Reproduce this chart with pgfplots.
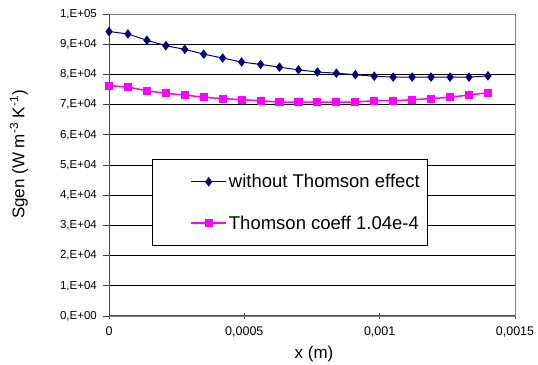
\documentclass[border=0pt]{standalone}
\usepackage{fontspec}
\setmainfont{Liberation Sans}
\usepackage{pgfplots}
\pgfplotsset{compat=1.18}
\definecolor{navyb}{HTML}{000080}
\definecolor{pinkm}{HTML}{FF00FF}
\begin{document}
\begin{tikzpicture}
\begin{axis}[
  scale only axis,
  width=406bp, height=302bp,
  at={(109bp,49bp)}, anchor=south west,
  xmin=0, xmax=0.0015, ymin=0, ymax=100000,
  xtick={0,0.0005,0.001,0.0015},
  xticklabels={0,{0,0005},{0,001},{0,0015}},
  ytick={0,10000,20000,30000,40000,50000,60000,70000,80000,90000,100000},
  yticklabels={{0,E+00},{1,E+04},{2,E+04},{3,E+04},{4,E+04},{5,E+04},{6,E+04},{7,E+04},{8,E+04},{9,E+04},{1,E+05}},
  scaled x ticks=false, scaled y ticks=false,
  ymajorgrids, grid style={black, line width=0.8bp},
  axis line style={draw=gray, line width=0.8bp},
  x tick style={black!75, line width=0.8bp},
  y tick style={black!75, line width=0.8bp},
  xtick align=center, ytick align=outside,
  x tick label style={font=\fontsize{12.5bp}{14bp}\selectfont, inner sep=0pt, yshift=-8bp, anchor=north},
  y tick label style={font=\fontsize{11.5bp}{13bp}\selectfont, inner sep=0pt, xshift=-6bp, anchor=east},
  tick pos=left,
  major tick length=6bp,
  xlabel={x (m)},
  ylabel={Sgen (W m\textsuperscript{-3} K\textsuperscript{-1})},
  xlabel style={font=\fontsize{17bp}{19bp}\selectfont, at={(axis description cs:0.505,-0.142)}, anchor=base, inner sep=0pt},
  ylabel style={font=\fontsize{17bp}{19bp}\selectfont, at={(axis description cs:-0.1995,0.535)}, anchor=south, inner sep=0pt},
  legend style={at={(axis description cs:0.106,0.52)}, anchor=north west, draw=black, line width=0.8bp,
    inner xsep=6bp, inner ysep=13bp, row sep=22.5bp,
    font=\fontsize{18.5bp}{20bp}\selectfont,
    nodes={inner sep=2bp}},
  legend cell align=left,
  legend image code/.code={
    \path (-32bp,0bp);
    \draw[mark repeat=2,mark phase=2,#1] plot coordinates {(0bp,0bp) (17.5bp,0bp) (35bp,0bp)};
  },
]
\addplot[navyb, line width=1bp, mark=diamond*, mark size=4bp, mark options={fill=navyb, draw=navyb}] coordinates {
(0.00000,94200) (0.00007,93400) (0.00014,91300) (0.00021,89500) (0.00028,88300)
(0.00035,86700) (0.00042,85400) (0.00049,84100) (0.00056,83300) (0.00063,82400)
(0.00070,81500) (0.00077,80800) (0.00084,80400) (0.00091,79900) (0.00098,79400)
(0.00105,79100) (0.00112,79100) (0.00119,79100) (0.00126,79100) (0.00133,79100)
(0.00140,79500)
};
\addlegendentry{without Thomson effect}
\addplot[pinkm, line width=1.5bp, mark=square*, mark size=3.3bp, mark options={fill=pinkm, draw=pinkm}] coordinates {
(0.00000,76300) (0.00007,75800) (0.00014,74600) (0.00021,73700) (0.00028,73200)
(0.00035,72400) (0.00042,72000) (0.00049,71600) (0.00056,71300) (0.00063,70800)
(0.00070,70800) (0.00077,70800) (0.00084,70800) (0.00091,70800) (0.00098,71300)
(0.00105,71300) (0.00112,71600) (0.00119,72000) (0.00126,72400) (0.00133,73200)
(0.00140,73900)
};
\addlegendentry{Thomson coeff 1.04e-4}
\draw[black!70, line width=1.2bp] (rel axis cs:0,1) -- (rel axis cs:0,0) -- (rel axis cs:1,0);
\draw[gray, line width=0.8bp] (rel axis cs:0,1) -- (rel axis cs:1,1) -- (rel axis cs:1,0);
\end{axis}
\pgfresetboundingbox
\path[use as bounding box] (0,0) rectangle (538bp,365bp);
\end{tikzpicture}
\end{document}
